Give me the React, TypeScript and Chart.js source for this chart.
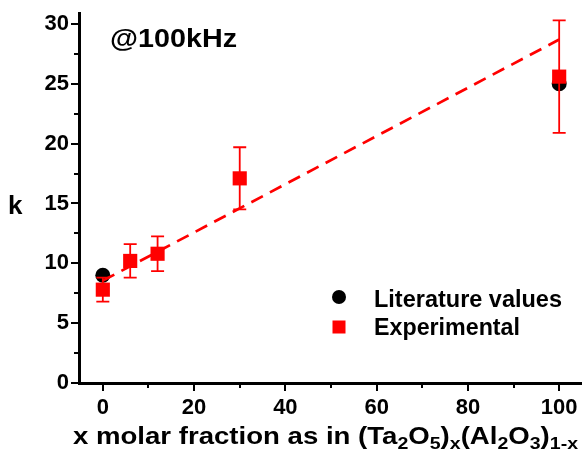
import React, { useEffect, useRef } from 'react';
import { Chart, registerables } from 'chart.js';

Chart.register(...registerables);

const literatureX = [0, 100];
const literatureK = [9.0, 25.0];
const experimentalX = [0, 6, 12, 30, 100];
const experimentalK = [7.8, 10.2, 10.8, 17.1, 25.6];
const experimentalErr = [1.0, 1.4, 1.45, 2.6, 4.7];
const fitX = [0, 100];
const fitK = [8.55, 28.7];
const xTicks = [0, 20, 40, 60, 80, 100];
const xMinorTicks = [10, 30, 50, 70, 90];
const yTicks = [0, 5, 10, 15, 20, 25, 30];
const yMinorTicks = [2.5, 7.5, 12.5, 17.5, 22.5, 27.5];

const FONT = '"Liberation Sans", Arial, sans-serif';

type Seg = [string, boolean];
const xTitleSegs: Seg[] = [
  ['x molar fraction as in (Ta', false],
  ['2', true],
  ['O', false],
  ['5', true],
  [')', false],
  ['x', true],
  ['(Al', false],
  ['2', true],
  ['O', false],
  ['3', true],
  [')', false],
  ['1-x', true],
];

function drawScaledText(ctx: CanvasRenderingContext2D, text: string, x: number, y: number, font: string, targetW: number) {
  ctx.save();
  ctx.font = font;
  const w = ctx.measureText(text).width;
  const sx = targetW / w;
  ctx.translate(x, y);
  ctx.scale(sx, 1);
  ctx.fillText(text, 0, 0);
  ctx.restore();
}

const decorPlugin = {
  id: 'decor',
  afterDatasetsDraw(chart: any) {
    const ctx = chart.ctx as CanvasRenderingContext2D;
    const xs = chart.scales.x;
    const ys = chart.scales.y;
    ctx.save();
    ctx.setLineDash([]);
    ctx.strokeStyle = '#ff0000';
    ctx.lineWidth = 1.8;
    experimentalX.forEach((x, i) => {
      const px = xs.getPixelForValue(x);
      const top = ys.getPixelForValue(experimentalK[i] + experimentalErr[i]);
      const bot = ys.getPixelForValue(experimentalK[i] - experimentalErr[i]);
      ctx.beginPath();
      ctx.moveTo(px, top);
      ctx.lineTo(px, bot);
      ctx.moveTo(px - 6.5, top);
      ctx.lineTo(px + 6.5, top);
      ctx.moveTo(px - 6.5, bot);
      ctx.lineTo(px + 6.5, bot);
      ctx.stroke();
    });
    ctx.restore();
  },
  afterDraw(chart: any) {
    const ctx = chart.ctx as CanvasRenderingContext2D;
    const xs = chart.scales.x;
    const ys = chart.scales.y;
    const area = chart.chartArea;
    ctx.save();
    ctx.setLineDash([]);
    ctx.globalAlpha = 1;
    ctx.globalCompositeOperation = 'source-over';
    ctx.fillStyle = '#000000';
    const L = Math.round(area.left);
    const B = Math.round(area.bottom);
    const T = Math.round(area.top);
    const R = Math.round(area.right);
    // axis lines (3px)
    ctx.fillRect(L - 2, T, 3, B - T + 2);
    ctx.fillRect(L - 2, B - 1, R - L + 2, 3);
    // tick marks
    xTicks.forEach((v) => {
      const p = Math.round(xs.getPixelForValue(v));
      ctx.fillRect(p - 1, B, 2, 8);
    });
    xMinorTicks.forEach((v) => {
      const p = Math.round(xs.getPixelForValue(v));
      ctx.fillRect(p - 1, B, 2, 5);
    });
    yTicks.forEach((v) => {
      const p = Math.round(ys.getPixelForValue(v));
      ctx.fillRect(L - 9, p - 1, 8, 2);
    });
    yMinorTicks.forEach((v) => {
      const p = Math.round(ys.getPixelForValue(v));
      ctx.fillRect(L - 6, p - 1, 5, 2);
    });

    ctx.textBaseline = 'alphabetic';
    ctx.textAlign = 'left';

    // annotation
    drawScaledText(ctx, '@100kHz', 110, 47, `bold 25px ${FONT}`, 127);

    // y title (upright)
    ctx.font = `bold 26px ${FONT}`;
    ctx.fillText('k', 8, 214);

    // x title with subscripts
    const mainFont = `bold 24px ${FONT}`;
    const subFont = `bold 17px ${FONT}`;
    let total = 0;
    xTitleSegs.forEach(([t, sub]) => {
      ctx.font = sub ? subFont : mainFont;
      total += ctx.measureText(t).width;
    });
    const sx = 505 / total;
    ctx.save();
    ctx.translate(73, 444);
    ctx.scale(sx, 1);
    let cx = 0;
    xTitleSegs.forEach(([t, sub]) => {
      ctx.font = sub ? subFont : mainFont;
      ctx.fillText(t, cx, sub ? 4.5 : 0);
      cx += ctx.measureText(t).width;
    });
    ctx.restore();

    // legend
    const ds = chart.data.datasets;
    ctx.fillStyle = '#000';
    ctx.beginPath();
    ctx.arc(339, 297, 7, 0, Math.PI * 2);
    ctx.fill();
    drawScaledText(ctx, ds[2].label, 374, 307, `bold 23px ${FONT}`, 188);
    ctx.fillStyle = '#ff0000';
    ctx.fillRect(332.5, 320.5, 13, 13);
    ctx.fillStyle = '#000';
    drawScaledText(ctx, ds[1].label, 374, 335, `bold 23px ${FONT}`, 146);
    ctx.restore();
  },
};

export default function App() {
  const ref = useRef<HTMLCanvasElement>(null);
  useEffect(() => {
    const tickFont = { family: FONT, size: 22, weight: 'bold' as const };
    const chart = new Chart(ref.current!, {
      type: 'scatter',
      data: {
        datasets: [
          {
            label: 'Linear fit',
            data: fitX.map((x, i) => ({ x, y: fitK[i] })),
            showLine: true,
            borderColor: '#ff0000',
            borderWidth: 2.7,
            borderDash: [13, 8],
            pointRadius: 0,
            fill: false,
            clip: false,
            order: 0,
          },
          {
            label: 'Experimental',
            data: experimentalX.map((x, i) => ({ x, y: experimentalK[i] })),
            pointStyle: 'rect',
            pointRadius: 10,
            backgroundColor: '#ff0000',
            borderWidth: 0,
            clip: false,
            order: 1,
          },
          {
            label: 'Literature values',
            data: literatureX.map((x, i) => ({ x, y: literatureK[i] })),
            pointStyle: 'circle',
            pointRadius: 7.5,
            backgroundColor: '#000000',
            borderWidth: 0,
            clip: false,
            order: 2,
          },
        ],
      },
      options: {
        animation: false,
        responsive: true,
        maintainAspectRatio: false,
        layout: { autoPadding: false, padding: { top: 12, right: 4, left: 0, bottom: 0 } },
        plugins: {
          legend: { display: false },
          tooltip: { enabled: false },
          title: { display: false },
        },
        scales: {
          x: {
            type: 'linear',
            min: -5,
            max: 105,
            grid: { display: false, drawTicks: false },
            border: { display: false },
            ticks: { font: tickFont, color: '#000', padding: 12, maxRotation: 0, autoSkip: false },
            afterBuildTicks: (s: any) => {
              s.ticks = xTicks.map((v) => ({ value: v }));
            },
            afterFit: (s: any) => {
              s.height = 70;
              s.paddingLeft = 0;
              s.paddingRight = 0;
            },
          },
          y: {
            type: 'linear',
            min: 0,
            max: 31,
            grid: { display: false, drawTicks: false },
            border: { display: false },
            ticks: { font: tickFont, color: '#000', padding: 11, autoSkip: false },
            afterBuildTicks: (s: any) => {
              s.ticks = yTicks.map((v) => ({ value: v }));
            },
            afterFit: (s: any) => {
              s.width = 80;
              s.paddingTop = 0;
              s.paddingBottom = 0;
            },
          },
        },
      },
      plugins: [decorPlugin],
    });
    return () => chart.destroy();
  }, []);
  return (
    <div style={{ position: 'fixed', left: 0, top: 0, width: 586, height: 453, background: '#fff' }}>
      <canvas ref={ref} />
    </div>
  );
}
